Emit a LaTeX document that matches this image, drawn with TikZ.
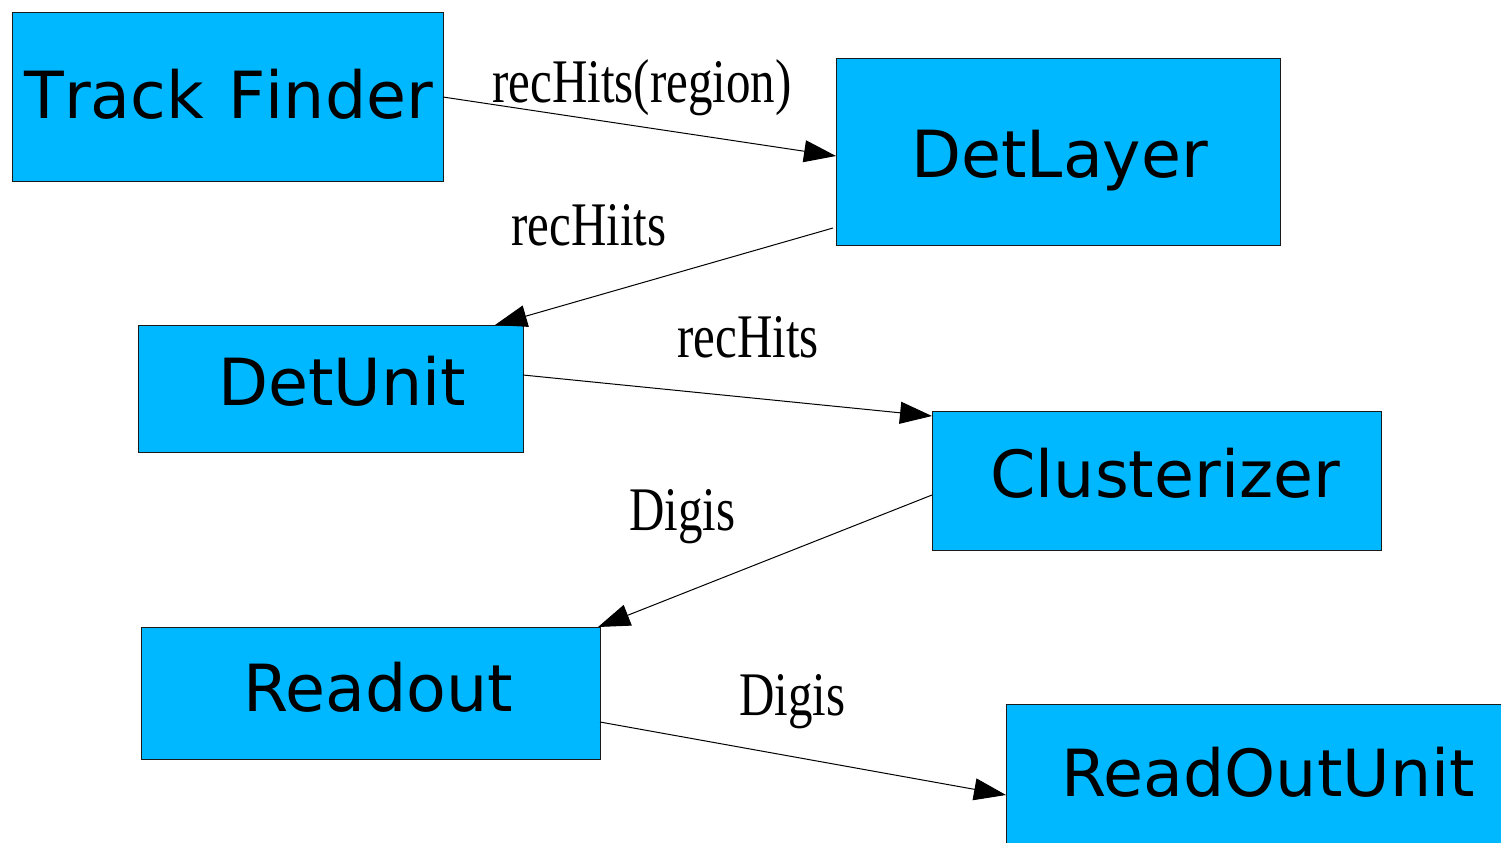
\documentclass[tikz,border=0pt]{standalone}
\usepackage{fontspec}
\setmainfont{DejaVu Sans}
\newfontfamily\lblfont[FakeStretch=0.79]{Liberation Serif}
\usetikzlibrary{arrows.meta}
\definecolor{boxfill}{HTML}{00B8FF}
\definecolor{boxline}{HTML}{1A1A1A}
\tikzset{
  box/.style={draw=boxline, line width=0.5pt, fill=boxfill, anchor=north west, inner sep=0pt},
  boxtext/.style={anchor=base west, inner sep=0pt, font=\fontsize{32.5pt}{36pt}\selectfont},
  lbl/.style={anchor=base west, inner sep=0pt, font=\lblfont\fontsize{31pt}{34pt}\selectfont},
  flow/.style={line width=0.5pt, -{Triangle[length=16pt, width=11pt]}}
}
\begin{document}
\begin{tikzpicture}[x=0.5pt, y=-0.5pt]
\useasboundingbox (0,0) rectangle (1501,842);

% boxes
\node[box, minimum width=215.5pt, minimum height=84.5pt] (tf) at (12,12) {};
\node[box, minimum width=222pt, minimum height=93.5pt] (dl) at (836,58) {};
\node[box, minimum width=192.5pt, minimum height=63.5pt] (du) at (138,325) {};
\node[box, minimum width=224.5pt, minimum height=69.5pt] (cl) at (932,411) {};
\node[box, minimum width=229.5pt, minimum height=66pt] (ro) at (141,627) {};
\node[box, minimum width=280pt, minimum height=90pt] (rou) at (1006,704) {};

% box titles
\node[boxtext] (tft) at (24,118) {\addfontfeatures{Kerning=Off}\makebox[102pt][l]{Track}Finder};
\node[boxtext] (dlt) at (911,177) {DetLayer};
\node[boxtext] (dut) at (218,405) {DetUnit};
\node[boxtext] (clt) at (990,497) {Clusterizer};
\node[boxtext] (rot) at (243,711) {Readout};
\node[boxtext] (rout) at (1061,796) {ReadOutUnit};

% connector end points
\coordinate (a1) at (443,97);
\coordinate (b1) at (836,156);
\coordinate (a2) at (833,228);
\coordinate (b2) at (495,325);
\coordinate (a3) at (523,375);
\coordinate (b3) at (932,416);
\coordinate (a4) at (932,495);
\coordinate (b4) at (598,627);
\coordinate (a5) at (600,722);
\coordinate (b5) at (1006,795);

% connectors
\draw[flow] (a1) -- (b1);
\draw[flow] (a2) -- (b2);
\draw[flow] (a3) -- (b3);
\draw[flow] (a4) -- (b4);
\draw[flow] (a5) -- (b5);

% connector labels
\node[lbl] (l1) at (492,102) {recHits(region)};
\node[lbl] (l2) at (511,245) {recHiits};
\node[lbl] (l3) at (677,357) {recHits};
\node[lbl] (l4) at (629,530) {Digis};
\node[lbl] (l5) at (739,715) {Digis};
\end{tikzpicture}
\end{document}
